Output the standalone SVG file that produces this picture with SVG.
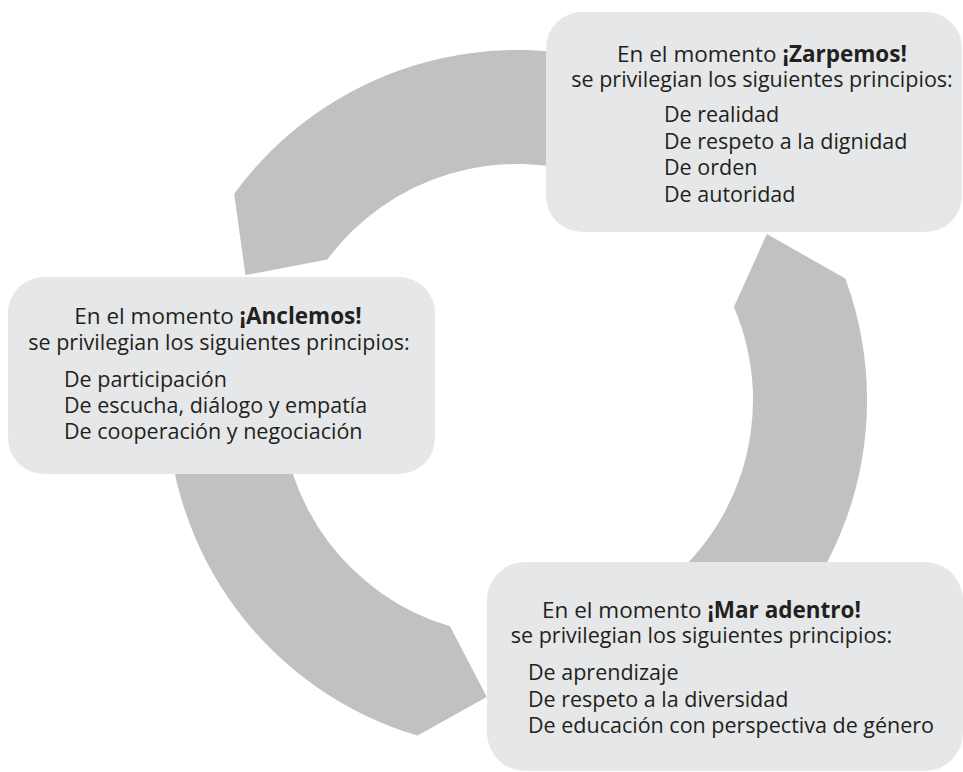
<svg xmlns="http://www.w3.org/2000/svg" width="963" height="772" viewBox="0 0 963 772">
<style>
.seg{fill:#c0c1c3;stroke:none}
.box{fill:#e6e7e8;stroke:none}
text{font-family:"Open Sans","Noto Sans","Liberation Sans",sans-serif;font-size:21.5px;fill:#231f20}
.c{text-anchor:middle}
.h{font-size:22.5px}
.b{font-weight:700}
</style>
<rect width="963" height="772" fill="#ffffff"/>
<g id="connectors">
<path class="seg" d="M 245.4 275 L 234.2 193.8 A 350 350 0 0 1 636.7 71.1 L 597.7 178.2 A 236 236 0 0 0 327.3 259.6 Z"/>
<path class="seg" d="M 766.9 234 L 845.3 278.6 A 350 350 0 0 1 692 703.1 L 635 604.4 A 236 236 0 0 0 733.9 307 Z"/>
<path class="seg" d="M 486.8 697 L 450 626.3 A 236 236 0 0 1 281 400 L 167 400 A 350 350 0 0 0 417.6 735.6 Z"/>
</g>
<g id="zarpemos">
<rect class="box" x="546" y="12" width="416" height="220" rx="36"/>
<text class="c h" x="762" y="62">En el momento <tspan class="b">¡Zarpemos!</tspan></text>
<text class="c" x="762" y="87">se privilegian los siguientes principios:</text>
<text x="664" y="122">De realidad</text>
<text x="664" y="148.5">De respeto a la dignidad</text>
<text x="664" y="175">De orden</text>
<text x="664" y="201.5">De autoridad</text>
</g>
<g id="anclemos">
<rect class="box" x="8" y="277" width="427" height="197" rx="36"/>
<text class="c h" x="218" y="324">En el momento <tspan class="b">¡Anclemos!</tspan></text>
<text class="c" x="219" y="350">se privilegian los siguientes principios:</text>
<text x="64" y="387">De participación</text>
<text x="64" y="413">De escucha, diálogo y empatía</text>
<text x="64" y="439">De cooperación y negociación</text>
</g>
<g id="mar-adentro">
<rect class="box" x="487" y="562" width="476" height="209" rx="38"/>
<text class="c h" x="701.5" y="618">En el momento <tspan class="b">¡Mar adentro!</tspan></text>
<text class="c" x="701.5" y="643">se privilegian los siguientes principios:</text>
<text x="528" y="680">De aprendizaje</text>
<text x="528" y="706.5">De respeto a la diversidad</text>
<text x="528" y="733">De educación con perspectiva de género</text>
</g>
</svg>
